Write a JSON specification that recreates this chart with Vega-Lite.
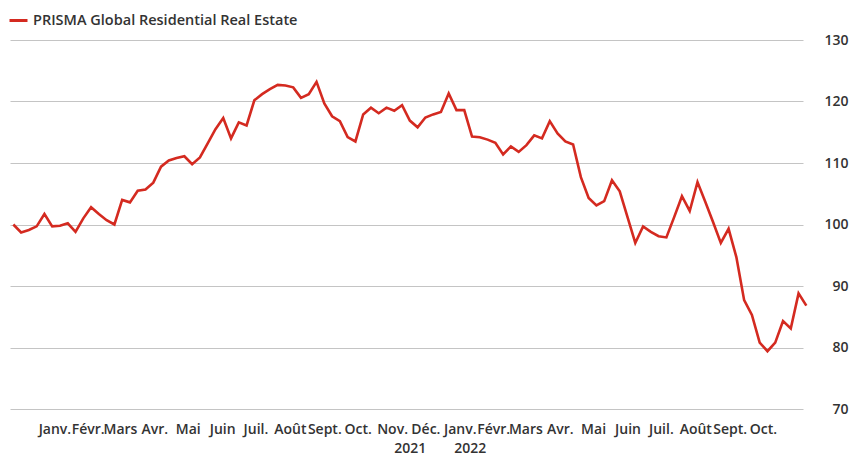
{
  "$schema": "https://vega.github.io/schema/vega-lite/v6.json",
  "width": 793,
  "height": 369,
  "autosize": "none",
  "padding": {"left": 10, "top": 40, "right": 47, "bottom": 47},
  "background": "white",
  "config": {"font": "Open Sans", "view": {"stroke": null}},
  "layer": [
    {
      "data": {"values": [
        {"date": "2020-12-10", "value": 100.0},
        {"date": "2020-12-17", "value": 98.7},
        {"date": "2020-12-24", "value": 99.1},
        {"date": "2020-12-31", "value": 99.7},
        {"date": "2021-01-07", "value": 101.7},
        {"date": "2021-01-14", "value": 99.7},
        {"date": "2021-01-21", "value": 99.8},
        {"date": "2021-01-28", "value": 100.2},
        {"date": "2021-02-04", "value": 98.8},
        {"date": "2021-02-11", "value": 101.0},
        {"date": "2021-02-18", "value": 102.8},
        {"date": "2021-02-25", "value": 101.7},
        {"date": "2021-03-04", "value": 100.7},
        {"date": "2021-03-11", "value": 100.0},
        {"date": "2021-03-18", "value": 104.0},
        {"date": "2021-03-25", "value": 103.6},
        {"date": "2021-04-01", "value": 105.5},
        {"date": "2021-04-08", "value": 105.7},
        {"date": "2021-04-15", "value": 106.8},
        {"date": "2021-04-22", "value": 109.4},
        {"date": "2021-04-29", "value": 110.4},
        {"date": "2021-05-06", "value": 110.8},
        {"date": "2021-05-13", "value": 111.1},
        {"date": "2021-05-20", "value": 109.8},
        {"date": "2021-05-27", "value": 110.9},
        {"date": "2021-06-03", "value": 113.2},
        {"date": "2021-06-10", "value": 115.5},
        {"date": "2021-06-17", "value": 117.3},
        {"date": "2021-06-24", "value": 114.0},
        {"date": "2021-07-01", "value": 116.6},
        {"date": "2021-07-08", "value": 116.1},
        {"date": "2021-07-15", "value": 120.2},
        {"date": "2021-07-22", "value": 121.2},
        {"date": "2021-07-29", "value": 122.0},
        {"date": "2021-08-05", "value": 122.7},
        {"date": "2021-08-12", "value": 122.6},
        {"date": "2021-08-19", "value": 122.3},
        {"date": "2021-08-26", "value": 120.6},
        {"date": "2021-09-02", "value": 121.2},
        {"date": "2021-09-09", "value": 123.2},
        {"date": "2021-09-16", "value": 119.7},
        {"date": "2021-09-23", "value": 117.6},
        {"date": "2021-09-30", "value": 116.8},
        {"date": "2021-10-07", "value": 114.2},
        {"date": "2021-10-14", "value": 113.5},
        {"date": "2021-10-21", "value": 117.9},
        {"date": "2021-10-28", "value": 119.0},
        {"date": "2021-11-04", "value": 118.1},
        {"date": "2021-11-11", "value": 119.0},
        {"date": "2021-11-18", "value": 118.5},
        {"date": "2021-11-25", "value": 119.4},
        {"date": "2021-12-02", "value": 116.9},
        {"date": "2021-12-09", "value": 115.8},
        {"date": "2021-12-16", "value": 117.4},
        {"date": "2021-12-23", "value": 117.9},
        {"date": "2021-12-30", "value": 118.3},
        {"date": "2022-01-06", "value": 121.3},
        {"date": "2022-01-13", "value": 118.6},
        {"date": "2022-01-20", "value": 118.6},
        {"date": "2022-01-27", "value": 114.3},
        {"date": "2022-02-03", "value": 114.2},
        {"date": "2022-02-10", "value": 113.8},
        {"date": "2022-02-17", "value": 113.3},
        {"date": "2022-02-24", "value": 111.4},
        {"date": "2022-03-03", "value": 112.7},
        {"date": "2022-03-10", "value": 111.8},
        {"date": "2022-03-17", "value": 112.9},
        {"date": "2022-03-24", "value": 114.5},
        {"date": "2022-03-31", "value": 114.0},
        {"date": "2022-04-07", "value": 116.8},
        {"date": "2022-04-14", "value": 114.8},
        {"date": "2022-04-21", "value": 113.5},
        {"date": "2022-04-28", "value": 113.0},
        {"date": "2022-05-05", "value": 107.7},
        {"date": "2022-05-12", "value": 104.3},
        {"date": "2022-05-19", "value": 103.1},
        {"date": "2022-05-26", "value": 103.8},
        {"date": "2022-06-02", "value": 107.2},
        {"date": "2022-06-09", "value": 105.4},
        {"date": "2022-06-16", "value": 101.2},
        {"date": "2022-06-23", "value": 97.0},
        {"date": "2022-06-30", "value": 99.7},
        {"date": "2022-07-07", "value": 98.8},
        {"date": "2022-07-14", "value": 98.1},
        {"date": "2022-07-21", "value": 97.9},
        {"date": "2022-07-28", "value": 101.2},
        {"date": "2022-08-04", "value": 104.6},
        {"date": "2022-08-11", "value": 102.2},
        {"date": "2022-08-18", "value": 106.9},
        {"date": "2022-08-25", "value": 103.7},
        {"date": "2022-09-01", "value": 100.4},
        {"date": "2022-09-08", "value": 97.0},
        {"date": "2022-09-15", "value": 99.3},
        {"date": "2022-09-22", "value": 94.7},
        {"date": "2022-09-29", "value": 87.7},
        {"date": "2022-10-06", "value": 85.3},
        {"date": "2022-10-13", "value": 80.8},
        {"date": "2022-10-20", "value": 79.4},
        {"date": "2022-10-27", "value": 80.8},
        {"date": "2022-11-03", "value": 84.3},
        {"date": "2022-11-10", "value": 83.1},
        {"date": "2022-11-17", "value": 88.8},
        {"date": "2022-11-24", "value": 86.8}
      ]},
      "mark": {"type": "line", "strokeWidth": 2.6, "strokeJoin": "miter"},
      "encoding": {
        "x": {
          "field": "date",
          "type": "temporal",
          "scale": {"domain": [
            {"year": 2020, "month": 12, "date": 7, "utc": true},
            {"year": 2022, "month": 11, "date": 21, "utc": true}
          ]},
          "axis": {
            "title": null,
            "orient": "bottom",
            "domain": false,
            "ticks": false,
            "grid": false,
            "labelPadding": 13,
            "labelFontSize": 14,
            "labelFontWeight": 600,
            "labelColor": "#333333",
            "labelOverlap": false,
            "labelFlush": false,
            "values": [
              {"year": 2021, "month": 1, "date": 16, "utc": true},
              {"year": 2021, "month": 2, "date": 15, "utc": true},
              {"year": 2021, "month": 3, "date": 16, "utc": true},
              {"year": 2021, "month": 4, "date": 16, "utc": true},
              {"year": 2021, "month": 5, "date": 16, "utc": true},
              {"year": 2021, "month": 6, "date": 16, "utc": true},
              {"year": 2021, "month": 7, "date": 16, "utc": true},
              {"year": 2021, "month": 8, "date": 16, "utc": true},
              {"year": 2021, "month": 9, "date": 16, "utc": true},
              {"year": 2021, "month": 10, "date": 16, "utc": true},
              {"year": 2021, "month": 11, "date": 16, "utc": true},
              {"year": 2021, "month": 12, "date": 16, "utc": true},
              {"year": 2022, "month": 1, "date": 16, "utc": true},
              {"year": 2022, "month": 2, "date": 15, "utc": true},
              {"year": 2022, "month": 3, "date": 16, "utc": true},
              {"year": 2022, "month": 4, "date": 16, "utc": true},
              {"year": 2022, "month": 5, "date": 16, "utc": true},
              {"year": 2022, "month": 6, "date": 16, "utc": true},
              {"year": 2022, "month": 7, "date": 16, "utc": true},
              {"year": 2022, "month": 8, "date": 16, "utc": true},
              {"year": 2022, "month": 9, "date": 16, "utc": true},
              {"year": 2022, "month": 10, "date": 16, "utc": true}
            ],
            "labelExpr": "['Janv.','Févr.','Mars','Avr.','Mai','Juin','Juil.','Août','Sept.','Oct.','Nov.','Déc.'][utcmonth(datum.value)]"
          }
        },
        "y": {
          "field": "value",
          "type": "quantitative",
          "scale": {"domain": [70, 130], "nice": false, "zero": false},
          "axis": {
            "title": null,
            "orient": "right",
            "domain": false,
            "ticks": false,
            "grid": true,
            "gridColor": "#c4c4c4",
            "gridWidth": 1,
            "values": [70, 80, 90, 100, 110, 120, 130],
            "labelAlign": "right",
            "labelBaseline": "middle",
            "labelPadding": 45,
            "labelFontSize": 14,
            "labelFontWeight": 600,
            "labelColor": "#333333"
          }
        },
        "color": {
          "datum": "PRISMA Global Residential Real Estate",
          "type": "nominal",
          "scale": {"range": ["#d42a20"]},
          "legend": {
            "title": null,
            "orient": "none",
            "legendX": -2,
            "legendY": -30,
            "padding": 0,
            "symbolType": "stroke",
            "symbolStrokeWidth": 3,
            "symbolSize": 324,
            "labelFontSize": 14.5,
            "labelFontWeight": 600,
            "labelColor": "#333333",
            "labelOffset": 4,
            "labelLimit": 0
          }
        }
      }
    },
    {
      "mark": {"type": "rule", "strokeDash": [3, 3], "color": "#aaaaaa", "strokeWidth": 1},
      "encoding": {
        "x": {
          "datum": {"year": 2022, "month": 1, "date": 1, "utc": true},
          "type": "temporal",
          "axis": {
            "title": null,
            "orient": "bottom",
            "domain": false,
            "ticks": false,
            "grid": false,
            "labelPadding": 32,
            "labelFontSize": 14,
            "labelFontWeight": 600,
            "labelColor": "#333333",
            "labelOverlap": false,
            "labelFlush": false,
            "values": [
              {"year": 2021, "month": 12, "date": 2, "utc": true},
              {"year": 2022, "month": 1, "date": 25, "utc": true}
            ],
            "labelExpr": "'' + utcyear(datum.value)"
          }
        }
      }
    }
  ],
  "resolve": {"axis": {"x": "independent"}}
}
